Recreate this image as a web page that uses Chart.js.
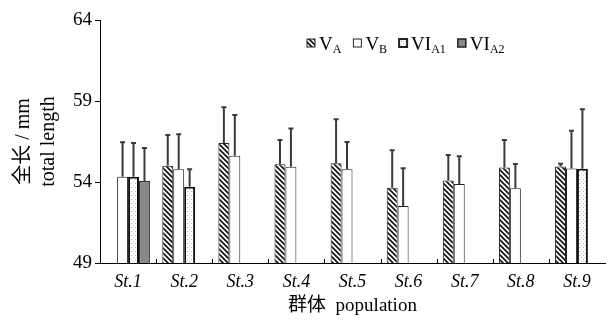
<!DOCTYPE html>
<html>
<head>
<meta charset="utf-8">
<script src="https://cdn.jsdelivr.net/npm/chart.js@4/dist/chart.umd.min.js"></script>
<style>
  html, body { margin: 0; padding: 0; background: #fff; }
  #wrap { width: 609px; height: 322px; }
</style>
</head>
<body>
<div id="wrap"><canvas id="len" width="609" height="322"></canvas></div>
<script>
// data
const stations = ['St.1', 'St.2', 'St.3', 'St.4', 'St.5', 'St.6', 'St.7', 'St.8', 'St.9'];
const meanVA   = [null, 55.0, 56.4, 55.1, 55.15, 53.65, 54.1, 54.9, 54.95];
const meanVB   = [54.33, 54.78, 55.62, 54.94, 54.78, 52.52, 53.88, 53.61, 54.84];
const meanVIA1 = [54.33, 53.71, null, null, null, null, null, null, 54.82];
const meanVIA2 = [54.06, null, null, null, null, null, null, null, null];
const sdVA   = [null, 1.9, 2.22, 1.5, 2.72, 2.31, 1.57, 1.69, 0.17];
const sdVB   = [2.12, 2.16, 2.52, 2.37, 1.69, 2.33, 1.71, 1.5, 2.33];
const sdVIA1 = [2.07, 1.07, null, null, null, null, null, null, 3.67];
const sdVIA2 = [2.04, null, null, null, null, null, null, null, null];
const yTicks = [49, 54, 59, 64];

const serif = "'Liberation Serif', 'Noto Sans CJK SC', serif";

// fill patterns
function hatch() {
    const c = document.createElement('canvas');
    c.width = 5; c.height = 5;
    const g = c.getContext('2d');
    g.fillStyle = '#fff';
    g.fillRect(0, 0, 5, 5);
    g.strokeStyle = '#1a1a1a';
    g.lineWidth = 1.8;
    g.beginPath();
    g.moveTo(-1, -1); g.lineTo(6, 6);
    g.moveTo(-1, 4); g.lineTo(1, 6);
    g.moveTo(4, -1); g.lineTo(6, 1);
    g.stroke();
    return g.createPattern(c, 'repeat');
}
function dots() {
    const c = document.createElement('canvas');
    c.width = 4; c.height = 4;
    const g = c.getContext('2d');
    g.fillStyle = '#fff';
    g.fillRect(0, 0, 4, 4);
    g.fillStyle = '#bbb';
    g.fillRect(1, 1, 1, 1);
    g.fillRect(3, 3, 1, 1);
    return g.createPattern(c, 'repeat');
}
const hatchFill = hatch();
const dotFill = dots();

const sds = [sdVA, sdVB, sdVIA1, sdVIA2];

// upward error bars
const errorBars = {
    id: 'errorBars',
    afterDatasetsDraw(chart) {
        const ctx = chart.ctx;
        const y = chart.scales.y;
        ctx.save();
        ctx.strokeStyle = '#3a3a3a';
        ctx.lineWidth = 2;
        chart.data.datasets.forEach((ds, i) => {
            const meta = chart.getDatasetMeta(i);
            meta.data.forEach((bar, j) => {
                const v = ds.data[j];
                const sd = sds[i][j];
                if (v == null || sd == null) return;
                const top = y.getPixelForValue(v + sd);
                ctx.beginPath();
                ctx.moveTo(bar.x, bar.y);
                ctx.lineTo(bar.x, top);
                ctx.moveTo(bar.x - 2.5, top);
                ctx.lineTo(bar.x + 2.5, top);
                ctx.stroke();
            });
        });
        ctx.restore();
    }
};

// small inner ticks between groups
const innerTicks = {
    id: 'innerTicks',
    afterDraw(chart) {
        const ctx = chart.ctx;
        const x = chart.scales.x;
        const b = chart.chartArea.bottom;
        ctx.save();
        ctx.strokeStyle = '#000';
        ctx.lineWidth = 1;
        for (let i = 1; i < stations.length; i++) {
            const px = Math.round((x.getPixelForValue(i - 1) + x.getPixelForValue(i)) / 2) + 0.5;
            ctx.beginPath();
            ctx.moveTo(px, b);
            ctx.lineTo(px, b - 4);
            ctx.stroke();
        }
        ctx.restore();
    }
};

// legend with subscripts
const legendItems = [
    { main: 'V', sub: 'A', fill: hatchFill, bw: 1 },
    { main: 'V', sub: 'B', fill: '#fff', bw: 1 },
    { main: 'VI', sub: 'A1', fill: dotFill, bw: 2 },
    { main: 'VI', sub: 'A2', fill: '#888', bw: 1.5 }
];
const subLegend = {
    id: 'subLegend',
    afterDraw(chart) {
        const ctx = chart.ctx;
        let x = 307;
        const base = 50;
        ctx.save();
        ctx.textBaseline = 'alphabetic';
        legendItems.forEach(it => {
            ctx.fillStyle = it.fill;
            ctx.fillRect(x, 39, 8, 8);
            ctx.strokeStyle = '#222';
            ctx.lineWidth = it.bw;
            ctx.strokeRect(x, 39, 8, 8);
            x += 12;
            ctx.fillStyle = '#000';
            ctx.font = '19px ' + serif;
            ctx.fillText(it.main, x, base);
            x += ctx.measureText(it.main).width;
            ctx.font = '12px ' + serif;
            ctx.fillText(it.sub, x, base + 3);
            x += ctx.measureText(it.sub).width + 12;
        });
        ctx.restore();
    }
};

const ctx = document.getElementById('len').getContext('2d');
const lenChart = new Chart(ctx, {
    type: 'bar',
    data: {
        labels: stations,
        datasets: [{
            label: 'VA',
            data: meanVA,
            backgroundColor: hatchFill,
            borderColor: '#222',
            borderWidth: 1
        },
        {
            label: 'VB',
            data: meanVB,
            backgroundColor: '#fff',
            borderColor: '#222',
            borderWidth: 1
        },
        {
            label: 'VIA1',
            data: meanVIA1,
            backgroundColor: dotFill,
            borderColor: '#111',
            borderWidth: 2
        },
        {
            label: 'VIA2',
            data: meanVIA2,
            backgroundColor: '#888',
            borderColor: '#333',
            borderWidth: 1.5
        }]
    },
    options: {
        responsive: false,
        animation: false,
        layout: {
            padding: { top: 20, right: 4, left: 0, bottom: 5 }
        },
        datasets: {
            bar: {
                categoryPercentage: 0.78,
                barPercentage: 1.0
            }
        },
        scales: {
            y: {
                min: 49,
                max: 64,
                afterBuildTicks: (s) => { s.ticks = yTicks.map(v => ({ value: v })); },
                afterFit: (s) => { s.width = 100; },
                ticks: {
                    color: '#000',
                    padding: 3,
                    font: { family: serif, size: 19 }
                },
                grid: {
                    drawOnChartArea: false,
                    tickLength: 5,
                    color: '#000'
                },
                border: { color: '#000', width: 1 },
                title: {
                    display: true,
                    text: ['全长 / mm', 'total length'],
                    color: '#000',
                    font: { family: serif, size: 20, lineHeight: 1.25 },
                    padding: { top: 11, bottom: 0 }
                }
            },
            x: {
                afterFit: (s) => { s.height = 54; },
                ticks: {
                    color: '#000',
                    padding: 0,
                    font: { family: serif, size: 18, style: 'italic' }
                },
                grid: {
                    display: false
                },
                border: { color: '#000', width: 1 },
                title: {
                    display: true,
                    text: '群体  population',
                    color: '#000',
                    font: { family: serif, size: 19 },
                    padding: { top: 0, bottom: 0 }
                }
            }
        },
        plugins: {
            legend: { display: false },
            tooltip: { enabled: false }
        }
    },
    plugins: [errorBars, innerTicks, subLegend]
});
</script>
</body>
</html>
